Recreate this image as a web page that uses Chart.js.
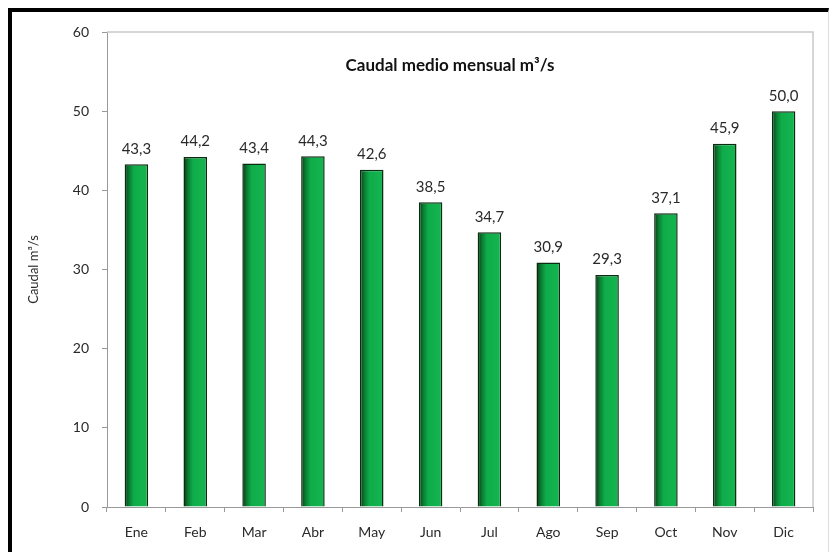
<!DOCTYPE html>
<html>
<head>
<meta charset="utf-8">
<script src="https://cdn.jsdelivr.net/npm/chart.js@4"></script>
<style>
  html, body { margin: 0; padding: 0; background: #fff; }
  #wrap { position: relative; width: 838px; height: 552px; }
  #frame {
    position: absolute; left: 8px; top: 8px; width: 816px; height: 544px;
    border-top: 4px solid #000; border-left: 4px solid #000; border-right: 1px solid #ddd;
    pointer-events: none;
  }
</style>
</head>
<body>
<div id="wrap">
  <canvas id="caudalChart" width="838" height="552"></canvas>
  <div id="frame"></div>
</div>
<script>
// datos del gráfico
const meses = ['Ene', 'Feb', 'Mar', 'Abr', 'May', 'Jun', 'Jul', 'Ago', 'Sep', 'Oct', 'Nov', 'Dic'];
const caudal = [43.3, 44.2, 43.4, 44.3, 42.6, 38.5, 34.7, 30.9, 29.3, 37.1, 45.9, 50.0];
const yTicks = [0, 10, 20, 30, 40, 50, 60];
const titulo = 'Caudal medio mensual m³/s';
const tituloEje = 'Caudal m³/s';

const fuente = 'Lato, "Liberation Sans", sans-serif';

// degradado horizontal de cada barra (oscuro a la izquierda)
function colorBarra(ctx) {
  const chart = ctx.chart;
  const x = chart.scales.x;
  if (!x || ctx.dataIndex == null) return '#10b04c';
  const centro = x.getPixelForValue(ctx.dataIndex);
  const ancho = (x.width / meses.length) * 0.4;
  if (!isFinite(centro) || !isFinite(ancho) || ancho <= 0) return '#10b04c';
  const g = chart.ctx.createLinearGradient(centro - ancho / 2, 0, centro + ancho / 2, 0);
  g.addColorStop(0, '#083a14');
  g.addColorStop(0.2, '#0a7f33');
  g.addColorStop(0.4, '#0fac4a');
  g.addColorStop(1, '#14b650');
  return g;
}

// marco del área de trazado, título y etiquetas de valor
const extras = {
  id: 'extras',
  beforeDatasetsDraw(chart) {
    const { ctx, chartArea: a } = chart;
    ctx.save();
    ctx.strokeStyle = '#c9c9c9';
    ctx.lineWidth = 1.5;
    ctx.beginPath();
    ctx.moveTo(a.left, a.top);
    ctx.lineTo(a.right, a.top);
    ctx.lineTo(a.right, a.bottom);
    ctx.stroke();
    ctx.restore();
  },
  afterDatasetsDraw(chart) {
    const { ctx, chartArea: a } = chart;
    const meta = chart.getDatasetMeta(0);
    ctx.save();
    ctx.fillStyle = '#2a2a2a';
    ctx.font = '15px ' + fuente;
    ctx.textAlign = 'center';
    ctx.textBaseline = 'bottom';
    meta.data.forEach((bar, i) => {
      ctx.fillText(caudal[i].toFixed(1).replace('.', ','), bar.x, bar.y - 8);
    });
    ctx.fillStyle = '#111';
    ctx.font = 'bold 17px ' + fuente;
    ctx.textBaseline = 'middle';
    ctx.fillText(titulo, 450, a.top + 34);
    ctx.restore();
  }
};

document.addEventListener('DOMContentLoaded', () => {
  const ctx = document.getElementById('caudalChart');

  new Chart(ctx, {
    type: 'bar',
    data: {
      labels: meses,
      datasets: [{
        label: titulo,
        data: caudal,
        backgroundColor: colorBarra,
        borderColor: '#0a2c10',
        borderWidth: 1.5,
        barPercentage: 0.4,
        categoryPercentage: 1
      }]
    },
    options: {
      responsive: false,
      animation: false,
      layout: { padding: { left: 0, top: 32, right: 25, bottom: 0 } },
      scales: {
        x: {
          afterFit: s => { s.height = 45; },
          grid: { offset: true, color: 'transparent', tickColor: '#999', tickLength: 5 },
          border: { color: '#999', width: 1 },
          ticks: { color: '#2a2a2a', padding: 12, font: { family: fuente, size: 14 } }
        },
        y: {
          min: 0,
          max: 60,
          afterFit: s => { s.width = 107; },
          afterBuildTicks: s => { s.ticks = yTicks.map(v => ({ value: v })); },
          grid: { color: 'transparent', tickColor: '#999', tickLength: 5 },
          border: { color: '#999', width: 1 },
          ticks: { color: '#2a2a2a', padding: 13, font: { family: fuente, size: 14 } },
          title: {
            display: true,
            text: tituloEje,
            color: '#2a2a2a',
            font: { family: fuente, size: 13 },
            padding: { top: 26, bottom: 0 }
          }
        }
      },
      plugins: {
        legend: { display: false },
        tooltip: { enabled: false }
      }
    },
    plugins: [extras]
  });
});
</script>
</body>
</html>
